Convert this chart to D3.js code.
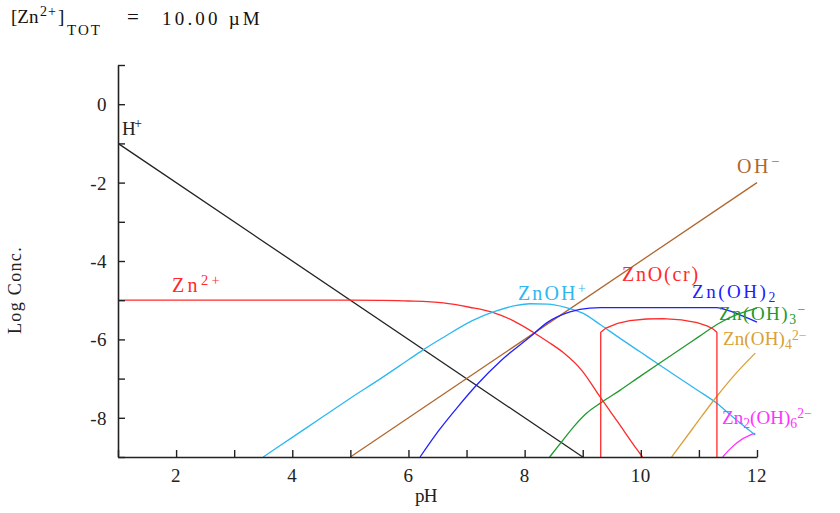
<!DOCTYPE html>
<html>
<head>
<meta charset="utf-8">
<script src="https://cdn.jsdelivr.net/npm/d3@7/dist/d3.min.js"></script>
<style>
  html, body { margin: 0; padding: 0; background: #fff; }
  svg { display: block; }
  text { font-family: "Liberation Serif", "DejaVu Serif", serif; }
</style>
</head>
<body>
<svg id="chart" width="840" height="513"></svg>
<script>
// ---- data ----
const pHDomain = [1, 12];
const logDomain = [-9, 1];
const xTickValues = [1,2,3,4,5,6,7,8,9,10,11,12];
const xTickLabels = [2,4,6,8,10,12];
const yTickValues = [1,0,-1,-2,-3,-4,-5,-6,-7,-8,-9];
const yTickLabels = [0,-2,-4,-6,-8];

const hPlus   = [[1,-1],[9,-9]];
const ohMinus = [[5,-9],[12,-2]];
const zn2     = [[1,-5],[5,-5],[5.5,-5.005],[6,-5.02],[6.6,-5.07],[7.05,-5.18],[7.45,-5.31],[7.8,-5.52],[8.14,-5.81],[8.4,-6.06],[8.66,-6.33],[9.0,-6.82],[9.29,-7.45],[9.6,-8.1],[9.93,-8.8],[10.03,-9]];
const znOH    = [[3.5,-9],[4,-8.5],[4.5,-8.0],[5,-7.5],[5.5,-7.02],[6,-6.52],[6.24,-6.28],[6.6,-5.95],[7.1,-5.52],[7.5,-5.28],[7.86,-5.13],[8.09,-5.09],[8.4,-5.1],[8.7,-5.18],[9.0,-5.33],[9.3,-5.62],[9.6,-5.93],[10.0,-6.33],[10.33,-6.66],[10.97,-7.29],[11.31,-7.63],[11.6,-8.0],[11.97,-8.44]];
const znOH2   = [[6.2,-9],[6.53,-8.31],[6.85,-7.72],[7.17,-7.17],[7.6,-6.53],[8.09,-5.94],[8.4,-5.56],[8.78,-5.3],[9.12,-5.2],[9.31,-5.19],[11.31,-5.19],[11.5,-5.26],[11.75,-5.4],[12,-5.56]];
const znOH3   = [[8.43,-9],[8.66,-8.57],[8.85,-8.22],[9.07,-7.88],[9.31,-7.62],[9.64,-7.3],[10.0,-6.93],[10.5,-6.43],[11.0,-5.93],[11.31,-5.62],[11.6,-5.4],[12,-5.2]];
const znOH4   = [[10.53,-9],[10.9,-8.26],[11.31,-7.45],[11.6,-6.93],[11.97,-6.35]];
const zn2OH6  = [[11.41,-9],[11.5,-8.85],[11.65,-8.64],[11.88,-8.44],[11.97,-8.4]];
const znOcr   = [[9.31,-9],[9.31,-5.82],[9.4,-5.71],[9.6,-5.59],[9.81,-5.52],[10.1,-5.48],[10.38,-5.47],[10.7,-5.5],[10.97,-5.57],[11.15,-5.66],[11.25,-5.74],[11.31,-5.82],[11.31,-9]];

const series = [
  {name: "H+",      data: hPlus,   color: "#222222", curve: d3.curveLinear},
  {name: "OH-",     data: ohMinus, color: "#b0672e", curve: d3.curveLinear},
  {name: "Zn2+",    data: zn2,     color: "#ff2a2a", curve: d3.curveMonotoneX},
  {name: "ZnOH+",   data: znOH,    color: "#2db8f2", curve: d3.curveMonotoneX},
  {name: "Zn(OH)2", data: znOH2,   color: "#2020ff", curve: d3.curveMonotoneX},
  {name: "Zn(OH)3-",data: znOH3,   color: "#22992e", curve: d3.curveMonotoneX},
  {name: "Zn(OH)4", data: znOH4,   color: "#d9a136", curve: d3.curveMonotoneX},
  {name: "Zn2(OH)6",data: zn2OH6,  color: "#ff33ff", curve: d3.curveMonotoneX},
  {name: "ZnO(cr)", data: znOcr,   color: "#ff2a2a", curve: d3.curveLinear}
];

// ---- layout ----
const svg = d3.select("#chart");
const x = d3.scaleLinear().domain(pHDomain).range([118, 757]);
const y = d3.scaleLinear().domain(logDomain).range([457, 65]);

svg.append("defs").append("clipPath").attr("id", "plotclip")
  .append("rect").attr("x", 118).attr("y", 60).attr("width", 645).attr("height", 398);

const g = svg.append("g").attr("clip-path", "url(#plotclip)");
const line = d3.line().x(d => x(d[0])).y(d => y(d[1]));
series.forEach(s => {
  g.append("path")
    .attr("d", line.curve(s.curve)(s.data))
    .attr("fill", "none")
    .attr("stroke", s.color)
    .attr("stroke-width", 1.3);
});

// ---- axes ----
const xAxis = d3.axisBottom(x).tickValues(xTickValues).tickSizeInner(-7).tickSizeOuter(0).tickFormat("");
const yAxis = d3.axisLeft(y).tickValues(yTickValues).tickSizeInner(-7).tickSizeOuter(0).tickFormat("");
const gx = svg.append("g").attr("transform", "translate(0,457)").call(xAxis);
const gy = svg.append("g").attr("transform", "translate(118,0)").call(yAxis);
[gx, gy].forEach(a => {
  a.select(".domain").attr("stroke", "#222").attr("stroke-width", 1.6);
  a.selectAll(".tick line").attr("stroke", "#222").attr("stroke-width", 1.4);
});

// fit a text element's width by adjusting letter spacing
function fit(t, target) {
  const el = t.node();
  const w = el.getBBox().width;
  const n = el.textContent.length;
  if (n > 1) t.attr("letter-spacing", ((target - w) / n).toFixed(2));
  return t;
}

svg.append("g").selectAll("text").data(xTickLabels).join("text")
  .attr("x", d => x(d)).attr("y", 482)
  .attr("text-anchor", "middle").attr("font-size", 19).attr("fill", "#222")
  .attr("letter-spacing", 0.5)
  .text(d => d);
svg.append("g").selectAll("text").data(yTickLabels).join("text")
  .attr("x", 107).attr("y", d => y(d) + 7)
  .attr("text-anchor", "end").attr("font-size", 19).attr("fill", "#222")
  .attr("letter-spacing", 0.5)
  .text(d => d);

fit(svg.append("text").attr("x", 415).attr("y", 502)
  .attr("font-size", 19).attr("fill", "#222").text("pH"), 22);
const lc = svg.append("text").attr("font-size", 18).attr("fill", "#222").text("Log Conc.");
fit(lc, 88);
lc.attr("transform", "translate(21,334) rotate(-90)");

// ---- rich labels ----
function label(px, py, color, parts, size, target, supOff) {
  size = size || 20;
  const t = svg.append("text").attr("x", px).attr("y", py).attr("fill", color).attr("font-size", size);
  let shift = 0;
  parts.forEach(p => {
    const [txt, kind] = p;
    let off = kind === "sup" ? -(supOff || 7) : kind === "sub" ? 4 : 0;
    const ts = t.append("tspan").text(txt).attr("dy", off - shift);
    if (kind) ts.attr("font-size", size * 0.72);
    shift = off;
  });
  if (target) fit(t, target);
  return t;
}

// title pieces
fit(svg.append("text").attr("x", 11).attr("y", 23).attr("font-size", 19).attr("fill", "#111").text("[Zn"), 28);
fit(svg.append("text").attr("x", 40).attr("y", 16).attr("font-size", 14).attr("fill", "#111").text("2+"), 17);
svg.append("text").attr("x", 58).attr("y", 23).attr("font-size", 19).attr("fill", "#111").text("]");
fit(svg.append("text").attr("x", 67).attr("y", 35).attr("font-size", 15).attr("fill", "#111").text("TOT"), 35);
svg.append("text").attr("x", 127).attr("y", 24).attr("font-size", 21).attr("fill", "#111").text("=");
fit(svg.append("text").attr("x", 162).attr("y", 25).attr("font-size", 19).attr("fill", "#111").text("10.00 \u00b5M"), 101);

label(122, 135, "#222", [["H"], ["+","sup"]], 19, 19);
label(172, 292, "#ff2a2a", [["Zn"], ["2+","sup"]], 20, 51);
label(518, 300, "#2db8f2", [["ZnOH"], ["+","sup"]], 20, 70);
label(622, 281, "#ff2a2a", [["ZnO(cr)"]], 20, 78);
label(692, 298, "#2020ff", [["Zn(OH)"], ["2","sub"]], 19, 86);
label(719, 320, "#22992e", [["Zn(OH)"], ["3","sub"], ["\u2212","sup"]], 19, 88, 6);
label(723, 345, "#d9a136", [["Zn(OH)"], ["4","sub"], ["2\u2212","sup"]], 19, 84, 5);
label(722, 424, "#ff33ff", [["Zn"], ["2","sub"], ["(OH)"], ["6","sub"], ["2\u2212","sup"]], 19, 90, 6);
label(737, 173, "#b0672e", [["OH"], ["\u2212","sup"]], 20, 45);
</script>
</body>
</html>
